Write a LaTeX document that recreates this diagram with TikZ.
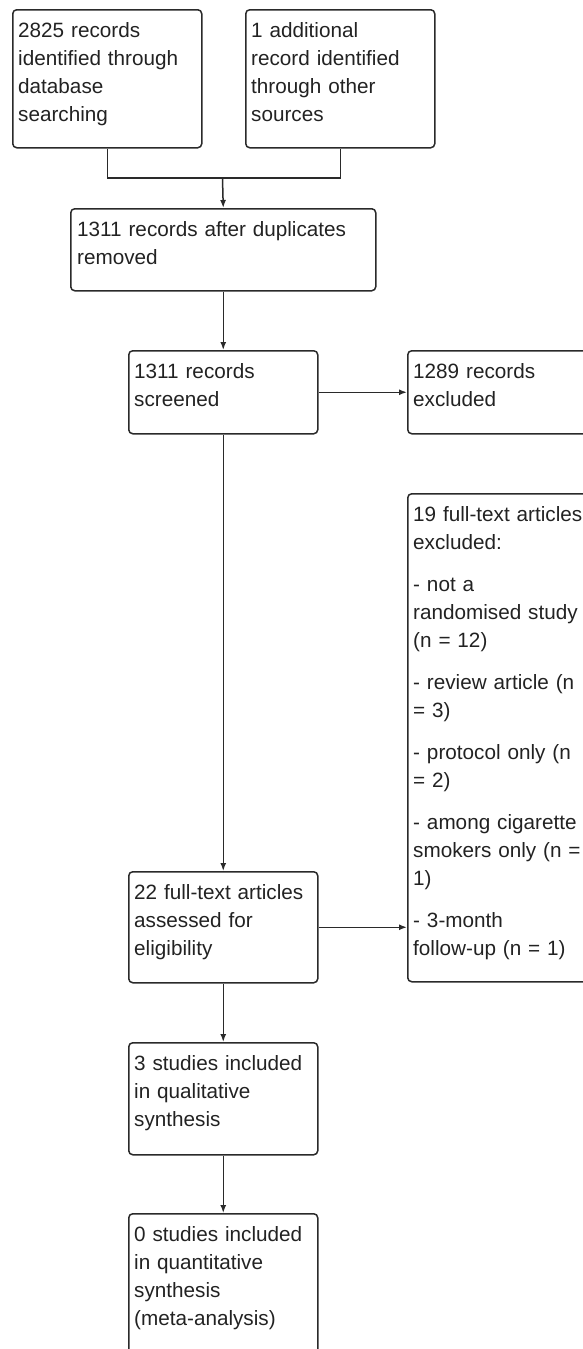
\documentclass[tikz,border=0pt]{standalone}
\usepackage{fontspec}
\setmainfont{Liberation Sans}
\usetikzlibrary{arrows.meta}
\definecolor{lc}{HTML}{2A2A2A}
\definecolor{tc}{HTML}{222222}
\begin{document}
\begin{tikzpicture}[x=1pt,y=-1pt,
  box/.style={draw=lc, line width=1.5pt, rounded corners=4pt, anchor=north west, inner sep=0pt, minimum width=189pt},
  txt/.style={anchor=north west, inner sep=0pt, align=left, text width=#1, font=\fontsize{20.7}{28}\selectfont, text=tc},
  txt/.default=180pt,
  arr/.style={draw=lc, line width=1.5pt, -{Latex[length=8pt,width=6pt]}},
  ln/.style={draw=lc, line width=1.5pt}]
\useasboundingbox (0,0) rectangle (583,1349);
\clip (0,0) rectangle (583,1349);
% boxes
\node[box, minimum height=138pt] (b1) at (12,9) {};
\node[box, minimum height=138pt] (b2) at (245,9) {};
\node[box, minimum width=305pt, minimum height=82pt] (b3) at (70,208) {};
\node[box, minimum height=83pt] (b4) at (128,350) {};
\node[box, minimum height=83pt] (b5) at (407,350) {};
\node[box, minimum height=488pt] (b9) at (407,493) {};
\node[box, minimum height=111pt] (b6) at (128,871) {};
\node[box, minimum height=112pt] (b7) at (128,1042) {};
\node[box, minimum height=170pt] (b8) at (128,1213) {};
% texts
\node[txt] (t1) at ([shift={(6pt,-8.4pt)}]b1.north west) {\strut 2825 records\\identified through\\database\\searching};
\node[txt] (t2) at ([shift={(6pt,-8.4pt)}]b2.north west) {\strut 1 additional\\record identified\\through other\\sources};
\node[txt=295pt] (t3) at ([shift={(7pt,-8.4pt)}]b3.north west) {\strut 1311 records after duplicates\\removed};
\node[txt] (t4) at ([shift={(6pt,-8.4pt)}]b4.north west) {\strut 1311 records\\screened};
\node[txt] (t5) at ([shift={(6pt,-8.4pt)}]b5.north west) {\strut 1289 records\\excluded};
\node[txt] (t9) at ([shift={(6pt,-8.4pt)}]b9.north west) {\strut 19 full-text articles\\excluded:\\[14pt]- not a\\randomised study\\(n = 12)\\[14pt]- review article (n\\= 3)\\[14pt]- protocol only (n\\= 2)\\[14pt]- among cigarette\\smokers only (n =\\1)\\[14pt]- 3-month\\follow-up (n = 1)};
\node[txt] (t6) at ([shift={(6pt,-8.4pt)}]b6.north west) {\strut 22 full-text articles\\assessed for\\eligibility};
\node[txt] (t7) at ([shift={(6pt,-8.4pt)}]b7.north west) {\strut 3 studies included\\in qualitative\\synthesis};
\node[txt] (t8) at ([shift={(6pt,-8.4pt)}]b8.north west) {\strut 0 studies included\\in quantitative\\synthesis\\(meta-analysis)};
% connectors
\coordinate (j) at (222.5,178);
\draw[ln] (b1.south) |- (j) -| (b2.south);
\draw[arr] (j) -- (b3.north);
\draw[arr] (b3.south) -- (b4.north);
\draw[arr] (b4.east) -- (b5.west);
\draw[arr] (b4.south) -- (b6.north);
\draw[arr] (b6.east) -- (b6.east -| b9.west);
\draw[arr] (b6.south) -- (b7.north);
\draw[arr] (b7.south) -- (b8.north);
\end{tikzpicture}
\end{document}
